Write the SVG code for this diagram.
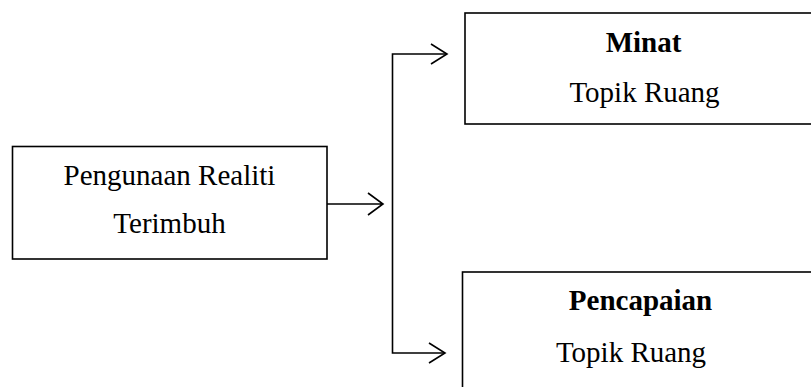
<svg xmlns="http://www.w3.org/2000/svg" width="811" height="387" viewBox="0 0 811 387">
<style>
.box{fill:#fff;stroke:#000;stroke-width:1.6}
.t{font-family:"Liberation Serif",serif;font-size:29px;fill:#000;text-anchor:middle}
.b{font-weight:bold}
.c{fill:none;stroke:#000;stroke-width:1.6}
</style>
<rect width="811" height="387" fill="#fff"/>
<g id="node-realiti">
<rect class="box" x="12.5" y="146.5" width="314.5" height="112.5"/>
<text class="t" x="169.5" y="185">Pengunaan Realiti</text>
<text class="t" x="169.5" y="233">Terimbuh</text>
</g>
<g id="node-minat">
<rect class="box" x="465" y="13" width="360" height="111"/>
<text class="t b" x="643.5" y="52">Minat</text>
<text class="t" x="644.5" y="102">Topik Ruang</text>
</g>
<g id="node-pencapaian">
<rect class="box" x="462.5" y="272" width="360" height="130"/>
<text class="t b" x="640.5" y="310">Pencapaian</text>
<text class="t" x="631" y="362">Topik Ruang</text>
</g>
<g id="connectors">
<path class="c" d="M327 204 H383 M368 193 L383 204 L368 215"/>
<path class="c" d="M447 54 H392.5 V353 H445"/>
<path class="c" d="M431 44 L447 54 L431 64"/>
<path class="c" d="M429 343 L445 353 L429 363"/>
</g>
</svg>
